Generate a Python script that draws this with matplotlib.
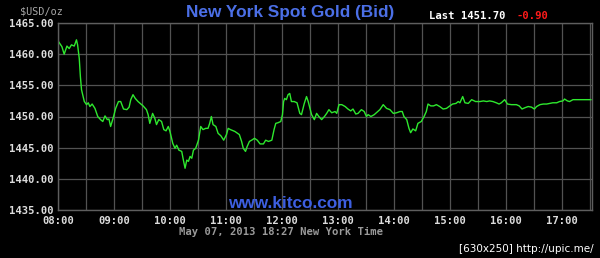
import numpy as np
import matplotlib.pyplot as plt

# time of day (decimal hours) and bid price
hours = [8.01, 8.07, 8.11, 8.16, 8.20, 8.24, 8.29, 8.33, 8.35, 8.38, 8.40, 8.42, 8.47, 8.51,
         8.54, 8.57, 8.61, 8.66, 8.71, 8.76, 8.80, 8.84, 8.88, 8.91, 8.94, 8.99, 9.03, 9.08,
         9.12, 9.17, 9.23, 9.27, 9.30, 9.34, 9.38, 9.43, 9.52, 9.58, 9.61, 9.64, 9.69, 9.73,
         9.76, 9.80, 9.85, 9.89, 9.93, 9.97, 10.00, 10.05, 10.09, 10.12, 10.16, 10.21, 10.24,
         10.27, 10.30, 10.33, 10.36, 10.39, 10.42, 10.46, 10.51, 10.55, 10.59, 10.64, 10.68,
         10.71, 10.74, 10.77, 10.82, 10.86, 10.91, 10.96, 11.01, 11.04, 11.08, 11.16, 11.24,
         11.28, 11.31, 11.35, 11.38, 11.42, 11.46, 11.51, 11.56, 11.61, 11.67, 11.71, 11.76,
         11.82, 11.86, 11.89, 11.93, 11.98, 12.01, 12.03, 12.05, 12.08, 12.11, 12.14, 12.17,
         12.22, 12.27, 12.32, 12.35, 12.40, 12.44, 12.47, 12.53, 12.58, 12.62, 12.66, 12.71,
         12.76, 12.80, 12.84, 12.89, 12.95, 12.98, 13.02, 13.07, 13.13, 13.18, 13.23, 13.27,
         13.32, 13.36, 13.42, 13.47, 13.51, 13.54, 13.59, 13.65, 13.75, 13.81, 13.87, 13.93,
         13.99, 14.05, 14.11, 14.15, 14.18, 14.23, 14.27, 14.30, 14.34, 14.39, 14.43, 14.49,
         14.54, 14.58, 14.61, 14.66, 14.71, 14.76, 14.82, 14.88, 14.94, 15.00, 15.05, 15.11,
         15.15, 15.18, 15.23, 15.27, 15.33, 15.39, 15.46, 15.54, 15.60, 15.66, 15.71, 15.77,
         15.83, 15.88, 15.92, 15.98, 16.03, 16.10, 16.19, 16.24, 16.29, 16.34, 16.40, 16.46,
         16.51, 16.55, 16.61, 16.67, 16.73, 16.79, 16.84, 16.91, 16.96, 17.02, 17.05, 17.10,
         17.14, 17.20, 17.29, 17.41, 17.52]
price = [1462.0, 1461.2, 1460.0, 1461.3, 1460.9, 1461.5, 1461.3, 1462.3, 1461.5, 1459.3,
         1456.4, 1454.3, 1452.4, 1451.9, 1452.2, 1451.6, 1452.0, 1451.3, 1450.0, 1449.5,
         1449.2, 1450.1, 1449.5, 1449.6, 1448.4, 1449.9, 1451.3, 1452.4, 1452.4, 1451.2,
         1451.1, 1451.5, 1452.7, 1453.5, 1452.9, 1452.4, 1451.7, 1451.1, 1450.3, 1448.9,
         1450.5, 1449.7, 1448.7, 1449.5, 1449.2, 1447.9, 1447.7, 1448.4, 1447.6, 1445.7,
         1444.9, 1445.4, 1444.6, 1444.4, 1443.0, 1441.7, 1443.0, 1442.8, 1443.6, 1443.3,
         1444.6, 1444.9, 1446.2, 1448.4, 1447.9, 1448.1, 1448.1, 1448.9, 1450.0, 1448.7,
         1448.4, 1447.3, 1446.9, 1446.2, 1447.1, 1448.1, 1447.9, 1447.6, 1447.1, 1446.0,
         1444.9, 1444.4, 1445.2, 1446.0, 1446.2, 1446.5, 1446.2, 1445.6, 1445.6, 1446.2,
         1446.0, 1446.2, 1447.9, 1448.9, 1449.0, 1449.2, 1450.3, 1452.4, 1452.9, 1452.7,
         1453.5, 1453.7, 1452.4, 1452.4, 1452.2, 1450.5, 1450.3, 1452.1, 1453.2, 1452.4,
         1450.3, 1449.5, 1450.5, 1450.0, 1449.5, 1450.0, 1450.5, 1451.1, 1450.6, 1450.8,
         1450.5, 1451.9, 1451.9, 1451.6, 1451.2, 1450.9, 1451.2, 1450.4, 1450.5, 1451.1,
         1450.8, 1450.0, 1450.3, 1450.0, 1450.3, 1451.1, 1451.9, 1451.3, 1451.1, 1450.5,
         1450.6, 1450.8, 1450.8, 1450.0, 1449.5, 1448.1, 1447.4, 1448.0, 1447.7, 1448.9,
         1449.2, 1450.0, 1450.8, 1452.0, 1451.7, 1451.7, 1451.9, 1451.6, 1451.2, 1451.3,
         1451.7, 1452.0, 1452.1, 1452.4, 1452.2, 1453.2, 1452.2, 1452.1, 1452.7, 1452.4,
         1452.4, 1452.5, 1452.4, 1452.5, 1452.4, 1452.2, 1452.0, 1452.2, 1452.7, 1452.0,
         1451.9, 1451.9, 1451.7, 1451.2, 1451.4, 1451.6, 1451.5, 1451.2, 1451.6, 1451.9,
         1452.0, 1452.0, 1452.1, 1452.2, 1452.2, 1452.4, 1452.5, 1452.8, 1452.5, 1452.4,
         1452.7, 1452.7, 1452.7, 1452.7]

hour_ticks = list(range(8, 18))
hour_labels = ['%02d:00' % h for h in hour_ticks]
price_ticks = [1435, 1440, 1445, 1450, 1455, 1460, 1465]
price_labels = ['%.2f' % p for p in price_ticks]

mono = 'DejaVu Sans Mono'
grid_col = '#525252'

fig = plt.figure(figsize=(6, 2.58), dpi=100, facecolor='black')
ax = fig.add_axes([58/600, 1 - 210/258, 534/600, 187/258])
ax.set_facecolor('black')

ax.plot(hours, price, color='#2ee82e', lw=1.0)

ax.set_xlim(8, 17.54)
ax.set_ylim(1435, 1465)
ax.set_xticks(hour_ticks)
ax.set_xticklabels(hour_labels)
ax.set_xticks(np.arange(8.5, 17.6, 1.0), minor=True)
ax.set_yticks(price_ticks)
ax.set_yticklabels(price_labels)
ax.grid(True, which='both', color=grid_col, lw=0.9)
ax.tick_params(which='both', length=0)
ax.tick_params(axis='x', pad=4)
ax.tick_params(axis='y', pad=3.5)
for lab in ax.get_xticklabels() + ax.get_yticklabels():
    lab.set_family(mono)
    lab.set_fontsize(7.6)
    lab.set_weight('bold')
    lab.set_color('#dcdcdc')
for s in ax.spines.values():
    s.set_color('#5e5e5e')
    s.set_linewidth(1.0)

fig.text(20/600, 1 - 11/258, '$USD/oz', family=mono, fontsize=7.3, color='#a8a8a8',
         va='center', ha='left', parse_math=False)
fig.text(290/600, 1 - 12/258, 'New York Spot Gold (Bid)', family='Liberation Sans',
         fontsize=12.4, weight='bold', color='#4b6fe6', va='center', ha='center')
fig.text(429/600, 1 - 16/258, 'Last 1451.70', family=mono, fontsize=7.6, weight='bold',
         color='white', va='center', ha='left')
fig.text(517/600, 1 - 16/258, '-0.90', family=mono, fontsize=7.6, weight='bold',
         color='#ff1a1a', va='center', ha='left')
fig.text(290/600, 1 - 203/258, 'www.kitco.com', family='Liberation Sans', fontsize=12.4,
         weight='bold', color='#3d5fe0', va='center', ha='center')
fig.text(281/600, 1 - 232/258, 'May 07, 2013 18:27 New York Time', family=mono,
         fontsize=7.6, weight='bold', color='#9a9a9a', va='center', ha='center')
fig.text(594/600, 1 - 249/258, '[630x250] http://upic.me/', family='DejaVu Sans',
         fontsize=7.5, color='white', va='center', ha='right')

fig.savefig('out.png', dpi=100, facecolor='black')
